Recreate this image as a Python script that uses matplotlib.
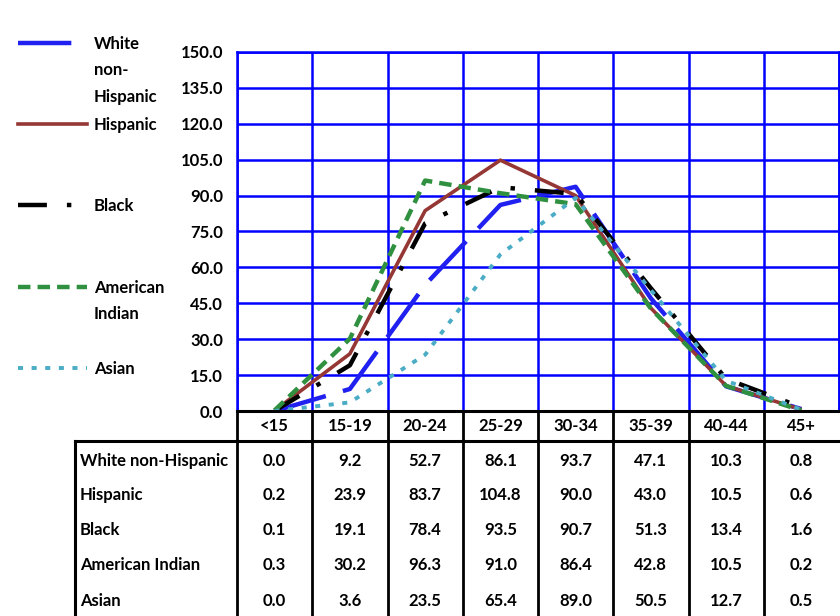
import numpy as np
import matplotlib
matplotlib.use("Agg")
import matplotlib.pyplot as plt
from matplotlib.transforms import blended_transform_factory

plt.rcParams['font.family'] = ['Lato', 'DejaVu Sans']
plt.rcParams['font.size'] = 12
plt.rcParams['font.weight'] = 'bold'

# birth rates per 1,000 women by age group of mother
age_groups = ["<15", "15-19", "20-24", "25-29", "30-34", "35-39", "40-44", "45+"]
white_non_hispanic = [0.0, 9.2, 52.7, 86.1, 93.7, 47.1, 10.3, 0.8]
hispanic = [0.2, 23.9, 83.7, 104.8, 90.0, 43.0, 10.5, 0.6]
black = [0.1, 19.1, 78.4, 93.5, 90.7, 51.3, 13.4, 1.6]
american_indian = [0.3, 30.2, 96.3, 91.0, 86.4, 42.8, 10.5, 0.2]
asian = [0.0, 3.6, 23.5, 65.4, 89.0, 50.5, 12.7, 0.5]

row_names = ["White non-Hispanic", "Hispanic", "Black", "American Indian", "Asian"]
legend_names = ["White\nnon-\nHispanic", "Hispanic", "Black", "American\nIndian", "Asian"]
series = [white_non_hispanic, hispanic, black, american_indian, asian]

styles = [
    dict(color="#2020F0", lw=3.2, dashes=(12, 4)),
    dict(color="#953735", lw=2.6),
    dict(color="#000000", lw=3.2, dashes=(6.5, 4.5, 1, 4.5)),
    dict(color="#2F9040", lw=3.2, dashes=(2.8, 1.6)),
    dict(color="#4BACC6", lw=2.8, dashes=(1.3, 2.2)),
]

W, H = 840, 616
fig = plt.figure(figsize=(W / 100, H / 100), dpi=100)
fig.patch.set_facecolor("white")

# overlay in pixel units for legend and data table
over = fig.add_axes([0, 0, 1, 1])
over.set_xlim(0, W)
over.set_ylim(H, 0)
over.axis("off")

# chart area
left, right, top, bottom = 237, 839, 52, 411
ax = fig.add_axes([left / W, (H - bottom) / H, (right - left) / W, (bottom - top) / H])
ax.set_xlim(0, len(age_groups))
ax.set_ylim(0, 150)
ax.set_yticks(np.arange(0, 151, 15))
ax.set_yticklabels([f"{v:.1f}" for v in np.arange(0, 151, 15)])
ax.set_xticks(np.arange(0, len(age_groups) + 1))
ax.set_xticklabels([])
ax.tick_params(length=0, pad=10)
ax.grid(True, color="#0000FF", lw=1.8)
ax.set_axisbelow(True)
for side in ["left", "top", "right"]:
    ax.spines[side].set_color("#0000FF")
    ax.spines[side].set_linewidth(1.8)
ax.spines["bottom"].set_color("black")
ax.spines["bottom"].set_linewidth(2.2)

x = np.arange(len(age_groups)) + 0.5
for vals, st in zip(series, styles):
    kw = dict(st)
    dashes = kw.pop("dashes", None)
    line, = ax.plot(x, vals, solid_capstyle="butt", **kw)
    if dashes is not None:
        line.set_dashes(dashes)
        line.set_dash_capstyle("butt")

# legend, one entry every ~81 px down the left side
for i, (name, st) in enumerate(zip(legend_names, styles)):
    y = 43 + 81.2 * i
    kw = dict(st)
    dashes = kw.pop("dashes", None)
    ln, = over.plot([18, 87], [y, y], **kw)
    if dashes is not None:
        ln.set_dashes(dashes)
        ln.set_dash_capstyle("butt")
    over.text(94, y - 7, name, va="top", ha="left", linespacing=1.8)

# data table under the chart
tr = blended_transform_factory(ax.transData, over.transData)
col_edges = np.arange(0, len(age_groups) + 1)
header_y = 426
row_y = [461, 495, 530, 565, 601]

for c, lab in enumerate(age_groups):
    over.text(c + 0.5, header_y, lab, transform=tr, ha="center", va="center")
    for r, vals in enumerate(series):
        over.text(c + 0.5, row_y[r], f"{vals[c]:.1f}", transform=tr, ha="center", va="center")

for r, name in enumerate(row_names):
    over.text(80, row_y[r], name, ha="left", va="center")

for e in col_edges[:-1]:
    over.plot([e, e], [bottom, H], transform=tr, color="black", lw=2, clip_on=False)
over.plot([75, right], [441, 441], color="black", lw=2.2)
over.plot([75, 75], [441, H], color="black", lw=2.2)

fig.savefig("out.png", dpi=100, facecolor="white")
